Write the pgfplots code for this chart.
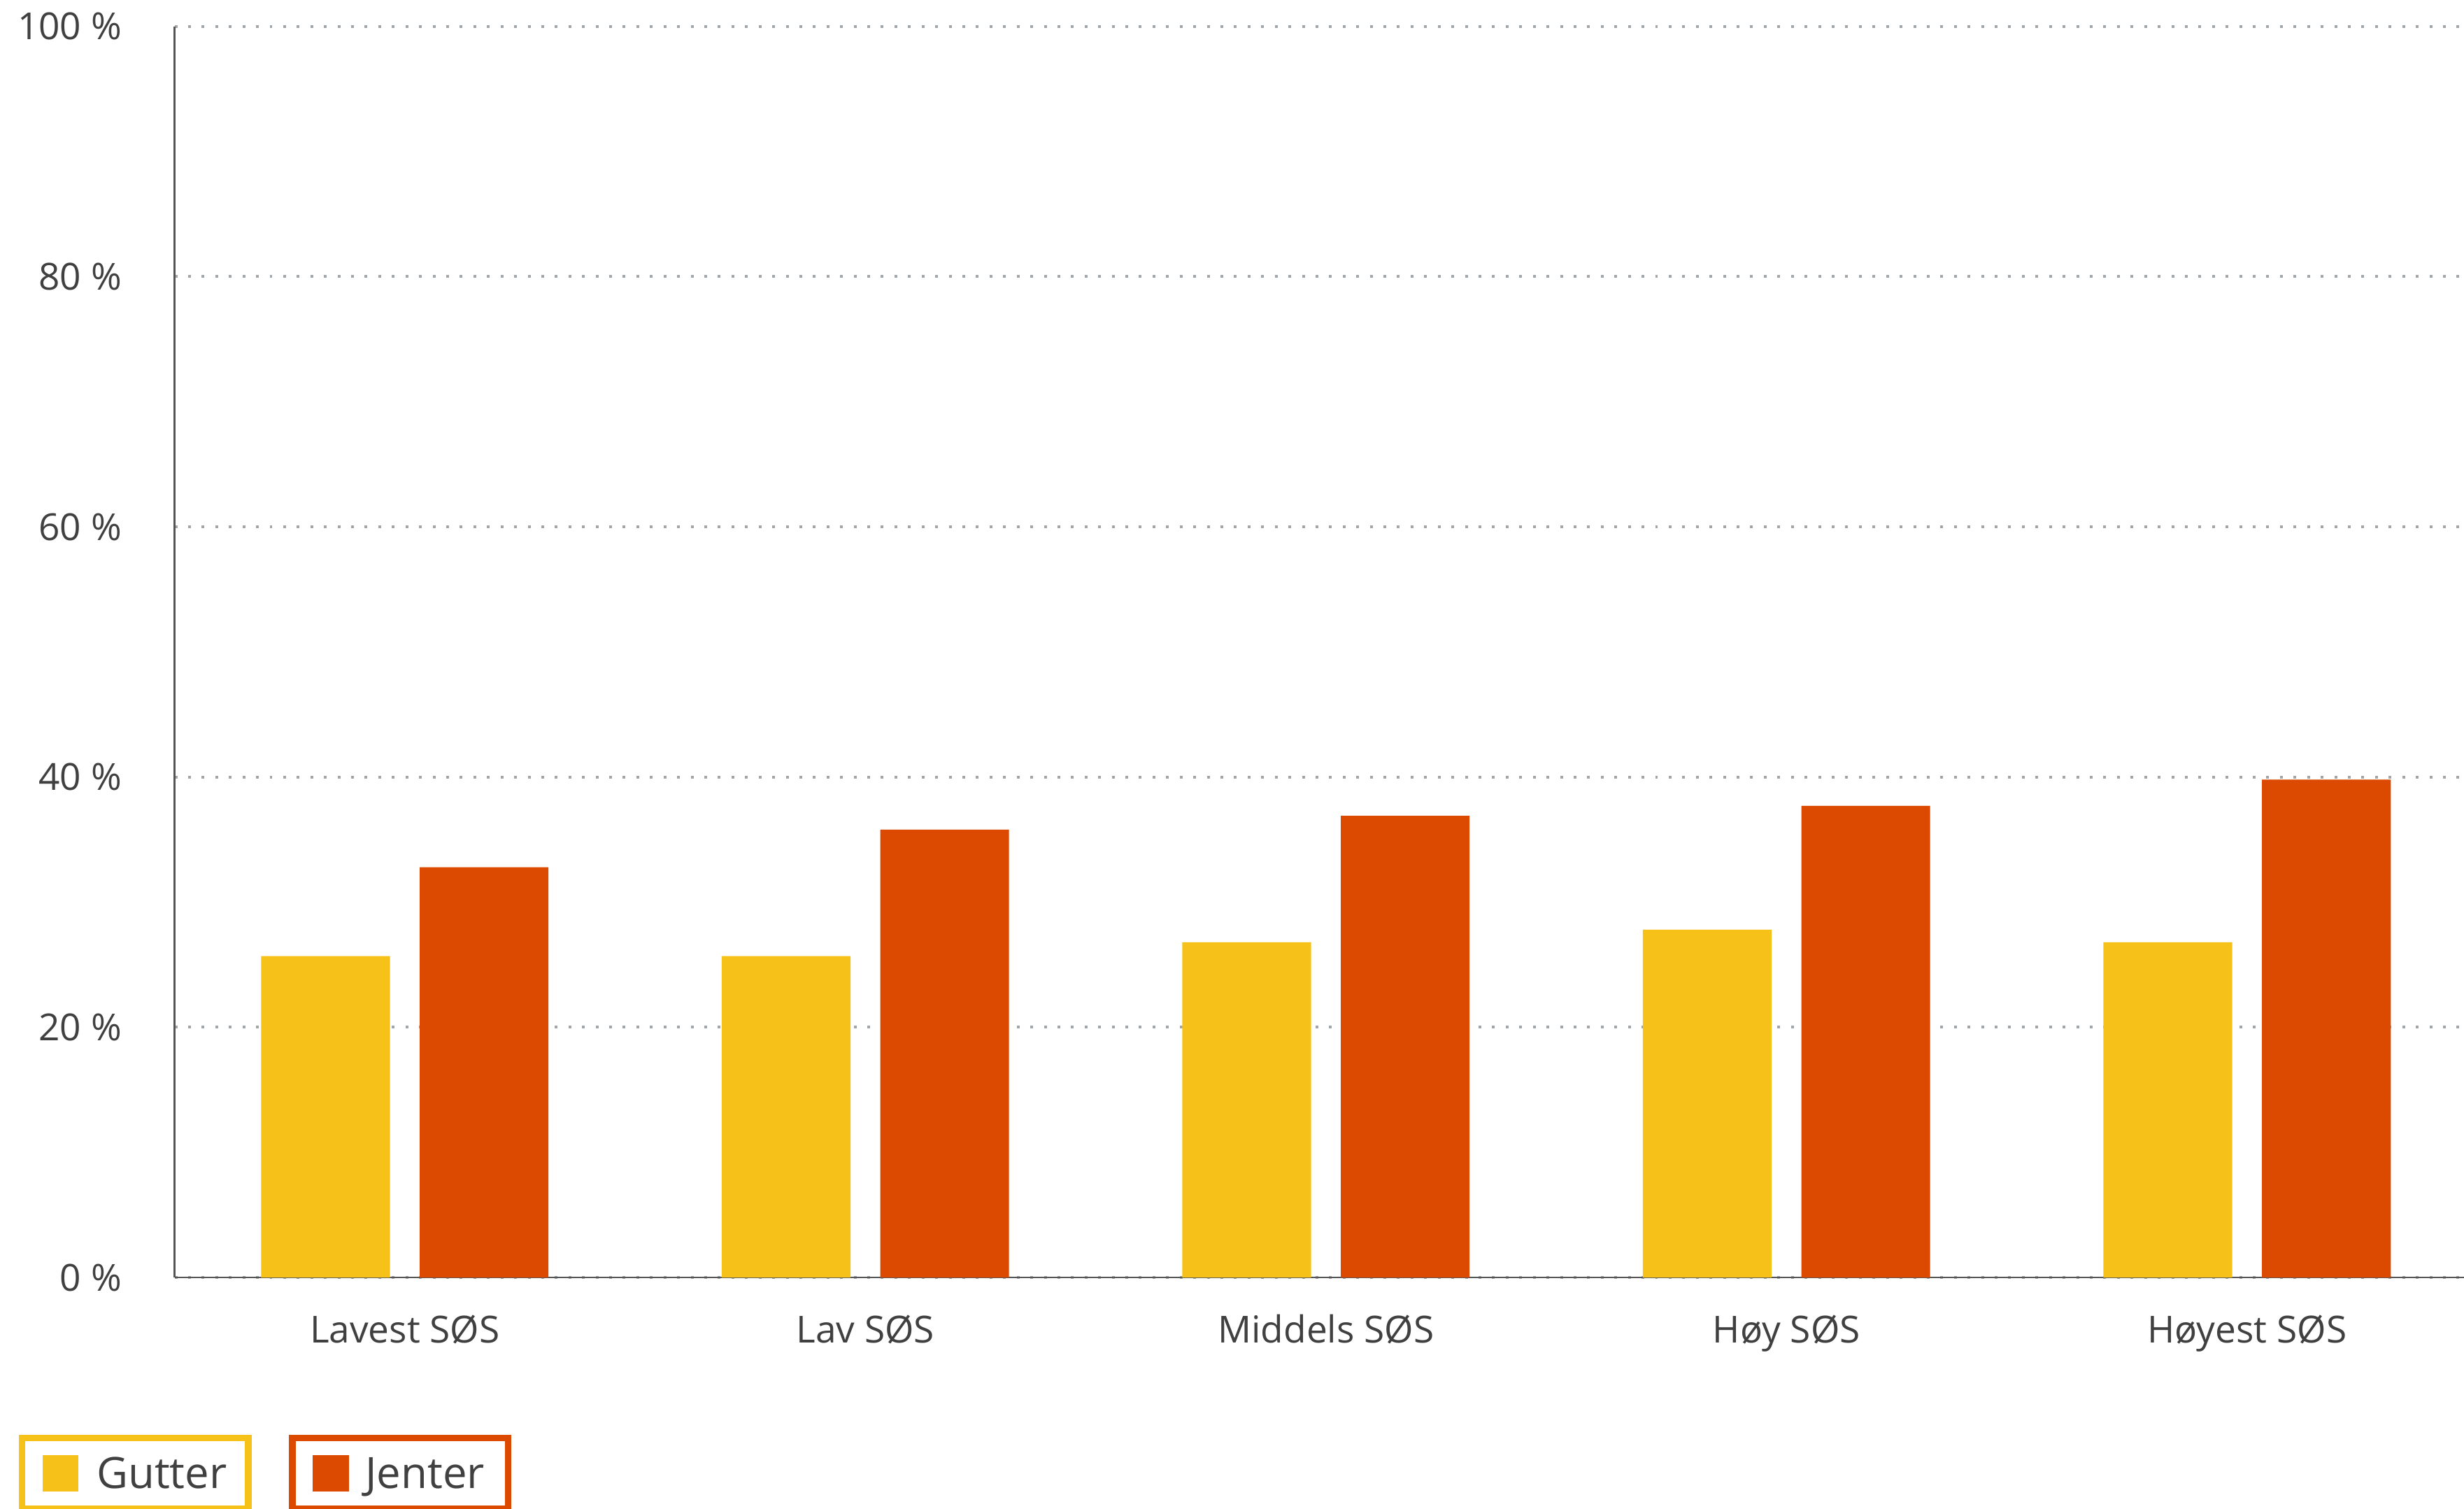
\documentclass[border=0pt]{standalone}
\usepackage{pgfplots}
\pgfplotsset{compat=1.18}
\usepackage{fontspec}
\setmainfont{Open Sans}
\definecolor{gutter}{HTML}{F6C21A}
\definecolor{jenter}{HTML}{DC4900}
\definecolor{txt}{HTML}{404040}
\definecolor{gridc}{HTML}{A0A6AA}
\definecolor{axc}{HTML}{555555}
\begin{document}
\begin{tikzpicture}
\useasboundingbox (-46.9pt,-62.1pt) rectangle (615.2pt,343.2pt);
\begin{axis}[
  scale only axis, width=615.2pt, height=336.1pt,
  xmin=-0.5, xmax=4.471, ymin=0, ymax=100,
  axis x line*=bottom, axis y line*=left,
  axis line style={draw=axc, line width=0.5pt, -},
  ytick={0,20,40,60,80,100},
  yticklabels={0 \%,20 \%,40 \%,60 \%,80 \%,100 \%},
  xtick={0,1,2,3,4},
  xticklabels={Lavest SØS, Lav SØS, Middels SØS, Høy SØS, Høyest SØS},
  major tick length=0pt,
  ymajorgrids,
  major grid style={draw=gridc, line width=0.75pt, dash pattern=on 0.75pt off 2.9pt},
  tick label style={font=\fontsize{10}{12}\selectfont, text=txt, inner sep=0pt},
  yticklabel style={anchor=east, xshift=-14pt},
  xticklabel style={anchor=base, yshift=-17.5pt},
  ybar, bar width=34.6pt,
]
\addplot[fill=gutter, draw=none, bar shift=-21.3pt] coordinates {(0,25.7) (1,25.7) (2,26.8) (3,27.8) (4,26.8)};
\addplot[fill=jenter, draw=none, bar shift=21.3pt] coordinates {(0,32.8) (1,35.8) (2,36.9) (3,37.7) (4,39.8)};
\end{axis}
% legend
\draw[gutter, line width=1.8pt] (-40.95pt,-43.1pt) rectangle (19.84pt,-62.1pt);
\fill[gutter] (-35.5pt,-47.7pt) rectangle (-25.8pt,-57.4pt);
\node[anchor=base west, inner sep=0pt, font=\fontsize{11.6}{14}\selectfont, text=txt] at (-21.1pt,-56.7pt) {Gutter};
\draw[jenter, line width=1.8pt] (31.7pt,-43.1pt) rectangle (89.6pt,-62.1pt);
\fill[jenter] (37.2pt,-47.7pt) rectangle (46.9pt,-57.4pt);
\node[anchor=base west, inner sep=0pt, font=\fontsize{11.6}{14}\selectfont, text=txt] at (51.1pt,-56.7pt) {Jenter};
\end{tikzpicture}
\end{document}
